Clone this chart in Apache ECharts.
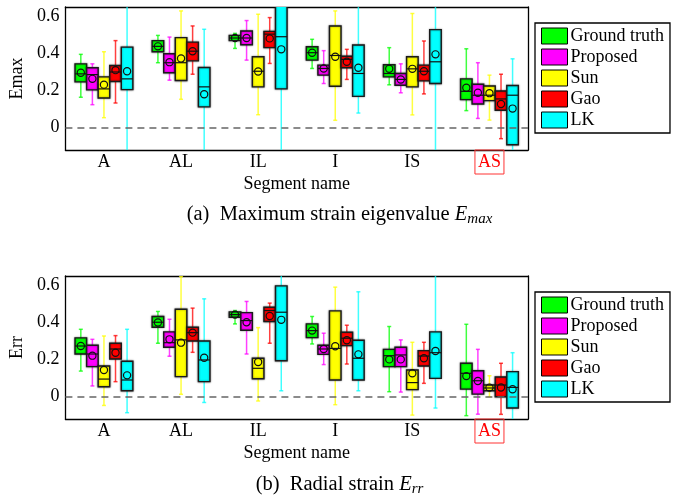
<!DOCTYPE html>
<html>
<head>
<meta charset="utf-8">
<script src="https://cdn.jsdelivr.net/npm/echarts@6/dist/echarts.min.js"></script>
<style>
  html, body { margin: 0; padding: 0; background: #fff; }
  #chart { width: 679px; height: 495px; }
</style>
</head>
<body>
<div id="chart"></div>
<script>
const segments = ['A', 'AL', 'IL', 'I', 'IS', 'AS'];
const methods = ['Ground truth', 'Proposed', 'Sun', 'Gao', 'LK'];
const colors = ['#00ff00', '#ff00ff', '#ffff00', '#ff0000', '#00ffff'];
const yTicks = [0, 0.2, 0.4, 0.6];

// one row per segment: [low whisker, q1, median, q3, high whisker, mean]
const emaxGroundTruth = [
  [0.164, 0.247, 0.29, 0.344, 0.395, 0.296],
  [0.35, 0.409, 0.438, 0.469, 0.497, 0.438],
  [0.427, 0.469, 0.483, 0.497, 0.508, 0.483],
  [0.319, 0.364, 0.404, 0.436, 0.476, 0.404],
  [0.231, 0.274, 0.292, 0.339, 0.431, 0.317],
  [0.092, 0.151, 0.196, 0.263, 0.425, 0.215]
];
const emaxProposed = [
  [0.124, 0.204, 0.286, 0.323, 0.344, 0.263],
  [0.256, 0.296, 0.35, 0.398, 0.488, 0.353],
  [0.364, 0.447, 0.483, 0.521, 0.577, 0.483],
  [0.238, 0.283, 0.319, 0.337, 0.415, 0.319],
  [0.188, 0.229, 0.26, 0.292, 0.344, 0.26],
  [0.05, 0.128, 0.175, 0.234, 0.35, 0.188]
];
const emaxSun = [
  [0.054, 0.16, 0.209, 0.274, 0.409, 0.232],
  [0.153, 0.254, 0.35, 0.485, 0.629, 0.373],
  [0.07, 0.22, 0.304, 0.382, 0.611, 0.303],
  [0.04, 0.223, 0.389, 0.548, 0.629, 0.382],
  [0.069, 0.22, 0.317, 0.382, 0.615, 0.317],
  [0.041, 0.146, 0.175, 0.225, 0.283, 0.186]
];
const emaxGao = [
  [0.133, 0.249, 0.3, 0.335, 0.469, 0.31],
  [0.288, 0.36, 0.412, 0.461, 0.548, 0.412],
  [0.346, 0.431, 0.504, 0.519, 0.593, 0.481],
  [0.26, 0.323, 0.368, 0.385, 0.422, 0.355],
  [0.182, 0.252, 0.304, 0.337, 0.467, 0.304],
  [-0.059, 0.094, 0.155, 0.198, 0.288, 0.128]
];
const emaxLK = [
  [-0.3, 0.205, 0.263, 0.434, 0.8, 0.304],
  [-0.2, 0.112, 0.22, 0.324, 0.53, 0.18],
  [-0.3, 0.209, 0.49, 0.7, 0.9, 0.422],
  [0.079, 0.169, 0.292, 0.445, 0.8, 0.323],
  [-0.3, 0.238, 0.355, 0.528, 0.8, 0.395],
  [-0.2, -0.092, 0.175, 0.227, 0.371, 0.103]
];

const errGroundTruth = [
  [0.138, 0.23, 0.273, 0.317, 0.363, 0.273],
  [0.288, 0.374, 0.401, 0.432, 0.459, 0.4],
  [0.392, 0.428, 0.442, 0.457, 0.464, 0.442],
  [0.284, 0.318, 0.356, 0.392, 0.432, 0.356],
  [0.027, 0.162, 0.221, 0.255, 0.378, 0.201],
  [-0.102, 0.041, 0.126, 0.18, 0.39, 0.111]
];
const errProposed = [
  [0.058, 0.162, 0.23, 0.277, 0.309, 0.221],
  [0.218, 0.266, 0.291, 0.349, 0.417, 0.309],
  [0.23, 0.358, 0.41, 0.453, 0.513, 0.401],
  [0.173, 0.228, 0.257, 0.277, 0.342, 0.257],
  [0.025, 0.162, 0.225, 0.266, 0.306, 0.201],
  [-0.094, 0.014, 0.086, 0.14, 0.255, 0.085]
];
const errSun = [
  [-0.047, 0.054, 0.095, 0.165, 0.327, 0.144],
  [0.013, 0.108, 0.306, 0.471, 0.647, 0.291],
  [-0.023, 0.097, 0.153, 0.207, 0.372, 0.187],
  [-0.043, 0.09, 0.26, 0.462, 0.59, 0.272],
  [-0.099, 0.038, 0.076, 0.144, 0.293, 0.126],
  [0, 0.032, 0.047, 0.063, 0.113, 0.049]
];
const errGao = [
  [0.081, 0.203, 0.257, 0.288, 0.329, 0.237],
  [0.239, 0.3, 0.345, 0.374, 0.477, 0.345],
  [0.288, 0.405, 0.464, 0.482, 0.504, 0.435],
  [0.176, 0.275, 0.315, 0.347, 0.385, 0.304],
  [0.072, 0.165, 0.219, 0.248, 0.293, 0.207],
  [-0.095, 0, 0.063, 0.106, 0.18, 0.05]
];
const errLK = [
  [-0.086, 0.032, 0.09, 0.191, 0.363, 0.115],
  [-0.031, 0.081, 0.198, 0.3, 0.527, 0.21],
  [0.032, 0.194, 0.455, 0.597, 0.8, 0.414],
  [0.032, 0.09, 0.207, 0.304, 0.565, 0.228],
  [-0.061, 0.099, 0.237, 0.349, 0.8, 0.246],
  [-0.2, -0.061, 0.05, 0.135, 0.237, 0.04]
];

const emaxData = [emaxGroundTruth, emaxProposed, emaxSun, emaxGao, emaxLK];
const errData = [errGroundTruth, errProposed, errSun, errGao, errLK];

const font = 'Liberation Serif';
const fs = 18;

function boxRenderer(slot) {
  return function (params, api) {
    const cat = api.value(0);
    const band = api.size([1, 0])[0];
    const w = band * 0.15;
    const cx = api.coord([cat, 0])[0] + (slot - 2) * w;
    const py = k => api.coord([cat, api.value(k)])[1];
    const low = py(1), q1 = py(2), med = py(3), q3 = py(4), high = py(5), mean = py(6);
    const wStyle = { stroke: colors[slot], lineWidth: 1.5, opacity: 0.75 };
    return {
      type: 'group',
      children: [
        { type: 'line', shape: { x1: cx, y1: low, x2: cx, y2: high }, style: wStyle },
        { type: 'line', shape: { x1: cx - 2, y1: low, x2: cx + 2, y2: low }, style: wStyle },
        { type: 'line', shape: { x1: cx - 2, y1: high, x2: cx + 2, y2: high }, style: wStyle },
        {
          type: 'rect',
          shape: { x: cx - w / 2, y: q3, width: w, height: q1 - q3 },
          style: { fill: colors[slot], stroke: '#1a1a1a', lineWidth: 1.4, shadowBlur: 2, shadowColor: 'rgba(0,0,0,0.45)' }
        },
        { type: 'line', shape: { x1: cx - w / 2, y1: med, x2: cx + w / 2, y2: med }, style: { stroke: '#111', lineWidth: 1.2 } },
        { type: 'circle', shape: { cx: cx, cy: mean, r: 3.6 }, style: { fill: 'none', stroke: '#111', lineWidth: 1.2 } }
      ]
    };
  };
}

function makeSeries(dataSets, g) {
  const list = dataSets.map((rows, slot) => ({
    type: 'custom',
    name: methods[slot],
    xAxisIndex: g,
    yAxisIndex: g,
    clip: true,
    itemStyle: { color: colors[slot] },
    encode: { x: 0, y: [1, 2, 3, 4, 5, 6] },
    renderItem: boxRenderer(slot),
    data: rows.map((r, i) => [i].concat(r))
  }));
  list.unshift({
    type: 'line',
    xAxisIndex: g,
    yAxisIndex: g,
    z: 1,
    data: [],
    markLine: {
      silent: true,
      symbol: 'none',
      label: { show: false },
      lineStyle: { color: '#666', type: [7, 5], width: 1.5 },
      data: [{ yAxis: 0 }]
    }
  });
  return list;
}

const axisLine = { onZero: false, lineStyle: { color: '#000', width: 1.3 } };
const tickStyle = { inside: true, length: 5, lineStyle: { color: '#000', width: 1 } };

function xAxes(g) {
  return [
    {
      type: 'category', gridIndex: g, data: segments, position: 'bottom',
      axisLine: axisLine,
      axisTick: Object.assign({ alignWithLabel: true }, tickStyle),
      axisLabel: {
        margin: 0,
        formatter: v => v === 'AS' ? '{as|AS}' : '{n|' + v + '}',
        rich: {
          n: { fontFamily: font, fontSize: fs, color: '#000', padding: [3, 3, 3, 3] },
          as: { fontFamily: font, fontSize: fs, color: '#ff0000', padding: [3, 3, 3, 3], borderColor: '#ff3333', borderWidth: 1 }
        }
      },
      name: 'Segment name', nameLocation: 'middle', nameGap: 22,
      nameTextStyle: { fontFamily: font, fontSize: fs, color: '#000' }
    },
    {
      type: 'category', gridIndex: g, data: segments, position: 'top',
      axisLine: axisLine,
      axisTick: Object.assign({ alignWithLabel: true }, tickStyle),
      axisLabel: { show: false }
    }
  ];
}

function yAxes(g, title) {
  return [
    {
      type: 'value', gridIndex: g, min: -0.12, max: 0.65, position: 'left',
      axisLine: Object.assign({ show: true }, axisLine),
      axisTick: Object.assign({ customValues: yTicks }, tickStyle),
      axisLabel: {
        customValues: yTicks, margin: 6,
        formatter: v => v === 0 ? '0' : v.toFixed(1),
        fontFamily: font, fontSize: fs, color: '#000'
      },
      splitLine: { show: false },
      name: title, nameLocation: 'middle', nameGap: 33,
      nameTextStyle: { fontFamily: font, fontSize: fs, color: '#000' }
    },
    {
      type: 'value', gridIndex: g, min: -0.12, max: 0.65, position: 'right',
      axisLine: Object.assign({ show: true }, axisLine),
      axisTick: Object.assign({ customValues: yTicks }, tickStyle),
      axisLabel: { show: false },
      splitLine: { show: false }
    }
  ];
}

function legendAt(top) {
  return {
    data: methods,
    orient: 'vertical',
    left: 535,
    top: top,
    icon: 'rect',
    itemWidth: 26,
    itemHeight: 16,
    itemGap: 3,
    padding: [4, 6, 4, 6],
    borderColor: '#000',
    borderWidth: 1.3,
    itemStyle: { borderColor: '#000', borderWidth: 1 },
    textStyle: { fontFamily: font, fontSize: fs, color: '#000', padding: [0, 0, 0, -2] }
  };
}

function caption(text, sub, top) {
  return {
    text: '{n|' + text + '}{i|E}{s|' + sub + '}',
    left: 'center',
    top: top,
    padding: 0,
    textStyle: {
      fontWeight: 'normal',
      rich: {
        n: { fontFamily: font, fontSize: 20.5, fontWeight: 'normal', color: '#000', lineHeight: 25 },
        i: { fontFamily: font, fontSize: 20.5, fontWeight: 'normal', fontStyle: 'italic', color: '#000', lineHeight: 25 },
        s: { fontFamily: font, fontSize: 15, fontWeight: 'normal', fontStyle: 'italic', color: '#000', lineHeight: 15, verticalAlign: 'bottom' }
      }
    }
  };
}

const xa0 = xAxes(0), xa1 = xAxes(1), ya0 = yAxes(0, 'Emax'), ya1 = yAxes(1, 'Err');

const chart = echarts.init(document.getElementById('chart'), null, { renderer: 'canvas' });
chart.setOption({
  animation: false,
  backgroundColor: '#fff',
  textStyle: { fontFamily: font },
  title: [
    caption('(a)  Maximum strain eigenvalue ', 'max', 202),
    caption('(b)  Radial strain ', 'rr', 472)
  ],
  legend: [legendAt(23), legendAt(292)],
  grid: [
    { left: 60, top: 7, width: 468, height: 143 },
    { left: 60, top: 276, width: 468, height: 143 }
  ],
  xAxis: [xa0[0], xa1[0], xa0[1], xa1[1]],
  yAxis: [ya0[0], ya1[0], ya0[1], ya1[1]],
  series: makeSeries(emaxData, 0).concat(makeSeries(errData, 1))
});
</script>
</body>
</html>
